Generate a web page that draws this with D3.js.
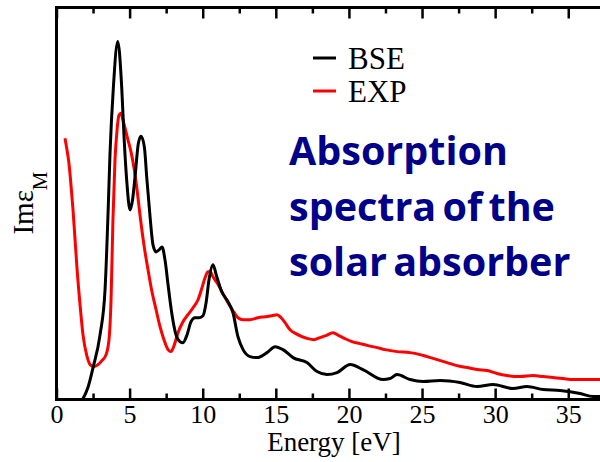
<!DOCTYPE html>
<html>
<head>
<meta charset="utf-8">
<script src="https://cdn.jsdelivr.net/npm/d3@7"></script>
<style>
  body { margin: 0; background: #fff; }
  svg { display: block; }
  .serif { font-family: "Liberation Serif", Tinos, "Times New Roman", Times, serif; }
</style>
</head>
<body>
<svg id="chart" width="600" height="462"></svg>
<script>
// data: energy in eV, intensity in arbitrary units
let bseEnergy = [1.78, 2.15, 2.50, 2.98, 3.32, 3.54, 3.66, 3.89, 4.19, 4.46, 4.62, 4.80, 5.03, 5.20, 5.37, 5.60, 5.78, 6.01, 6.17, 6.40,
    6.60, 6.81, 7.01, 7.22, 7.42, 7.63, 7.90, 8.17, 8.45, 8.65, 8.93, 9.20, 9.47, 9.75, 10.02, 10.23, 10.43, 10.70, 10.96, 11.30,
    11.73, 12.07, 12.41, 12.76, 13.24, 13.71, 14.40, 14.95, 15.49, 16.18, 17.13, 17.82, 18.50, 19.19, 20.08, 20.96, 22.33, 22.81,
    23.29, 24.18, 25.07, 26.23, 27.60, 28.76, 29.86, 31.22, 32.18, 33.28, 34.44, 35.81, 36.70, 37.24];
let bseValues = [0, 3, 8, 16.25, 27.5, 48.25, 61.75, 78.25, 89.75, 78.25, 65.75, 55, 47.5, 50, 55.75, 64.25, 66, 63.25, 55.75, 45.75,
    38.75, 37, 37.5, 38.25, 35, 28.75, 21.25, 16.25, 14.5, 14.25, 16.25, 19.5, 20.5, 20.5, 21, 24.25, 30, 33.75, 30.75, 27,
    24.5, 21.75, 15.75, 12.5, 10.75, 10.5, 11.75, 13.25, 12.5, 10.5, 9.25, 7, 6.25, 6.75, 8.75, 7.5, 5, 5.25,
    6.25, 5, 4.5, 4.75, 4.25, 3.25, 3.75, 2.75, 3.25, 2.5, 2.25, 1.5, 0.75, 0.75];

let expEnergy = [0.58, 0.72, 0.85, 0.99, 1.13, 1.27, 1.40, 1.61, 1.81, 2.09, 2.36, 2.56, 2.84, 3.11, 3.39, 3.59, 3.73, 3.86, 4.00, 4.14,
    4.27, 4.41, 4.55, 4.69, 4.89, 5.10, 5.30, 5.51, 5.71, 5.98, 6.26, 6.53, 6.81, 7.08, 7.35, 7.63, 7.83, 8.04, 8.31, 8.65,
    8.99, 9.34, 9.68, 9.95, 10.16, 10.36, 10.50, 10.70, 10.98, 11.32, 11.73, 12.07, 12.41, 12.76, 13.24, 13.78, 14.26, 14.74, 15.08, 15.36,
    15.63, 15.97, 16.38, 16.79, 17.20, 17.61, 18.02, 18.43, 18.91, 19.32, 19.73, 20.21, 20.76, 21.31, 21.92, 22.47, 23.29, 24.18, 24.86, 25.34,
    26.03, 26.71, 27.39, 28.08, 28.76, 29.45, 30.13, 30.81, 31.70, 32.59, 33.28, 33.96, 34.64, 35.33, 36.15, 37.24];
let expValues = [65.5, 62.5, 59.25, 53.75, 47.5, 40, 33, 23.75, 16.25, 10.75, 8.5, 8.25, 8.75, 9.75, 11.25, 15, 25, 45, 60, 67.5,
    71.25, 71.75, 70, 68, 65, 62, 58, 52.5, 46.25, 38.75, 32.5, 27, 22.5, 18.25, 15, 12.5, 12, 13.5, 16.75, 19.5,
    21.25, 23, 25, 28, 30.5, 32, 32, 30.75, 29.25, 27, 24.25, 22.25, 20.5, 20, 20, 20.5, 20.75, 21, 21.25, 20.5,
    19.25, 17.5, 16.5, 15.75, 15.25, 15, 15.5, 16, 16.75, 16, 15.25, 14.5, 14, 13.5, 13, 12.5, 12, 11.75, 11.25, 10.75,
    10, 9.25, 8.5, 8, 7.5, 7.25, 6.5, 6, 5.75, 6, 5.75, 5.5, 5.25, 5, 5, 5];

let majorTicks = [0, 5, 10, 15, 20, 25, 30, 35];
let minorTicks = [2.5, 7.5, 12.5, 17.5, 22.5, 27.5, 32.5];
let legendNames = ["BSE", "EXP"];
let legendColors = ["black", "#ff0000"];
let noteLines = ["Absorption", "spectra of the", "solar absorber"];

let svg = d3.select("#chart");

// plottet löper ut över högerkanten, därför slutar x-domänen vid ~37 eV
let x = d3.scaleLinear().domain([0, 37.24]).range([56.5, 601]);
let y = d3.scaleLinear().domain([0, 98.25]).range([399.5, 7.5]);

svg.append("clipPath").attr("id", "plotClip")
    .append("rect").attr("x", 56.5).attr("y", 7.5).attr("width", 550).attr("height", 392);

// kurvorna
let line = d3.line().curve(d3.curveMonotoneX);
let expPoints = expEnergy.map((e, i) => [x(e), y(expValues[i])]);
let bsePoints = bseEnergy.map((e, i) => [x(e), y(bseValues[i])]);

svg.append("path")
    .attr("d", line(expPoints))
    .attr("fill", "none")
    .attr("stroke", legendColors[1])
    .attr("stroke-width", 3)
    .attr("clip-path", "url(#plotClip)");

svg.append("path")
    .attr("d", line(bsePoints))
    .attr("fill", "none")
    .attr("stroke", legendColors[0])
    .attr("stroke-width", 3)
    .attr("clip-path", "url(#plotClip)");

// ticks inåt, både nere och uppe. Bara nedre huvudticks får siffror.
function drawTicks(axisFn, yPos, values, size, labels) {
    let g = svg.append("g")
        .attr("transform", `translate(0,${yPos})`)
        .call(axisFn(x).tickValues(values).tickSize(-size).tickPadding(5)
            .tickFormat(labels ? d3.format("d") : ""));
    g.attr("font-family", null).attr("font-size", null);
    g.select(".domain").remove();
    g.selectAll(".tick line").attr("stroke", "black").attr("stroke-width", 2.5);
    if (labels) {
        g.selectAll(".tick text")
            .attr("class", "serif")
            .style("font-size", "26px")
            .attr("fill", "black");
    } else {
        g.selectAll(".tick text").remove();
    }
}
drawTicks(d3.axisBottom, 399.5, majorTicks, 11, true);
drawTicks(d3.axisBottom, 399.5, minorTicks, 6, false);
drawTicks(d3.axisTop, 7.5, majorTicks, 11, false);
drawTicks(d3.axisTop, 7.5, minorTicks, 6, false);

// ramen
svg.append("rect")
    .attr("x", 56.5).attr("y", 7.5)
    .attr("width", 560).attr("height", 392)
    .attr("fill", "none")
    .attr("stroke", "black")
    .attr("stroke-width", 3);

// axeltitlar
svg.append("text")
    .attr("class", "serif")
    .attr("x", 334).attr("y", 451)
    .attr("text-anchor", "middle")
    .style("font-size", "27px")
    .text("Energy [eV]");

let yLabel = svg.append("text")
    .attr("class", "serif")
    .attr("transform", "translate(33,203) rotate(-90)")
    .attr("text-anchor", "middle")
    .style("font-size", "29px");
yLabel.append("tspan").text("Imε");
yLabel.append("tspan").attr("dy", 14).style("font-size", "21px").text("M");

// legend
legendNames.forEach((name, i) => {
    let ly = 58 + i * 33;
    svg.append("line")
        .attr("x1", 313).attr("x2", 336)
        .attr("y1", ly).attr("y2", ly)
        .attr("stroke", legendColors[i])
        .attr("stroke-width", 3);
    svg.append("text")
        .attr("class", "serif")
        .attr("x", 348).attr("y", ly + 11)
        .style("font-size", "31px")
        .text(name);
});

// blå text i plottet
noteLines.forEach((txt, i) => {
    svg.append("text")
        .attr("x", 289).attr("y", 165 + i * 55.5)
        .style("font-family", "'Open Sans', Lato, sans-serif")
        .style("font-weight", "bold")
        .style("font-size", "39.5px")
        .style("word-spacing", "-4px")
        .attr("fill", "#000088")
        .text(txt);
});
</script>
</body>
</html>
